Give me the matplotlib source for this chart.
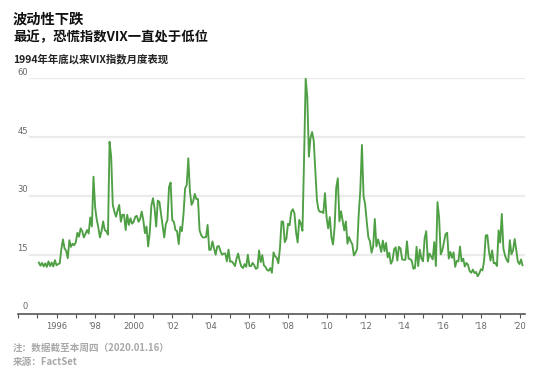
import numpy as np
import matplotlib
matplotlib.use("Agg")
import matplotlib.pyplot as plt

plt.rcParams['font.family'] = ['Noto Sans CJK SC', 'DejaVu Sans']

# VIX monthly close, Dec 1994 first, then Jan..Dec per year
vix_1990s = [13.0,
             12.2, 12.9, 12.0, 12.8, 11.9, 13.3, 12.1, 13.0, 12.0, 13.6, 12.3, 12.6,
             12.8, 16.4, 18.9, 16.6, 16.0, 14.1, 18.7, 17.0, 17.8, 17.4, 18.2, 20.6,
             19.6, 21.7, 21.0, 19.4, 20.3, 21.3, 20.4, 24.5, 22.2, 34.9, 27.2, 24.0,
             22.0, 19.4, 21.0, 23.5, 21.3, 21.0, 20.1, 43.8, 40.0, 27.7, 26.0, 24.7,
             26.3, 27.7, 23.4, 25.2, 25.2, 21.3, 25.2, 22.6, 24.3, 22.9, 23.4, 24.7]
vix_2000s = [24.9, 23.4, 24.1, 26.0, 23.8, 20.5, 22.2, 17.1, 20.6, 27.5, 29.4, 26.8,
             22.2, 28.8, 28.5, 25.5, 22.5, 19.4, 22.8, 23.8, 32.3, 33.4, 23.8, 23.4,
             21.3, 21.0, 17.7, 22.1, 21.0, 25.4, 31.9, 32.8, 39.6, 31.1, 27.7, 28.6,
             30.5, 29.2, 29.2, 21.2, 20.0, 19.4, 19.4, 19.5, 22.6, 16.2, 16.3, 18.4,
             16.6, 15.0, 17.1, 17.2, 15.9, 15.0, 15.3, 15.3, 13.3, 16.3, 13.2, 13.3,
             12.8, 12.1, 14.0, 15.3, 13.3, 12.0, 11.6, 12.6, 11.9, 15.0, 12.1, 12.1,
             12.9, 12.3, 11.4, 11.6, 16.1, 13.1, 14.9, 12.3, 11.9, 11.1, 10.9, 11.6,
             10.4, 15.6, 14.6, 14.2, 12.8, 16.7, 23.5, 23.4, 18.2, 19.1, 22.9, 22.5,
             25.9, 26.6, 25.6, 20.8, 18.1, 23.9, 22.9, 21.1, 39.4, 59.9, 55.3, 40.0,
             44.8, 46.3, 44.1, 36.5, 28.9, 26.4, 25.9, 26.0, 25.6, 30.7, 24.5, 21.7]
vix_2010s = [24.6, 19.5, 17.6, 22.1, 32.1, 34.5, 23.5, 26.1, 23.7, 21.2, 23.5, 17.8,
             19.5, 18.4, 17.7, 14.8, 15.5, 16.5, 25.3, 31.6, 43.0, 30.0, 27.8, 23.4,
             19.4, 18.4, 15.5, 17.2, 24.1, 17.1, 18.9, 17.5, 15.7, 18.6, 15.9, 18.0,
             14.3, 15.5, 12.7, 13.5, 16.3, 16.9, 13.5, 17.0, 16.6, 13.8, 13.7, 13.7,
             18.4, 14.0, 13.9, 13.4, 11.4, 11.6, 17.0, 12.1, 16.3, 14.0, 13.3, 19.2,
             21.0, 13.3, 15.3, 14.6, 13.8, 18.2, 12.1, 28.4, 24.5, 15.1, 16.1, 18.2,
             20.2, 20.6, 14.0, 15.7, 14.2, 15.6, 11.9, 13.4, 13.3, 17.1, 13.3, 14.0,
             12.0, 12.9, 12.4, 10.8, 10.4, 11.2, 10.3, 10.6, 9.5, 10.2, 11.3, 11.0,
             13.5, 19.9, 20.0, 15.9, 13.5, 16.1, 12.8, 12.9, 12.1, 21.2, 18.1, 25.4,
             16.6, 14.8, 13.7, 13.1, 18.7, 15.1, 16.1, 19.0, 16.2, 13.2, 12.6, 13.8]
vix_2020 = [12.3]  # 2020-01-16

y_ticks = [0, 15, 30, 45, 60]
x_labels = ["1996", "'98", "2000", "'02", "'04", "'06", "'08", "'10",
            "'12", "'14", "'16", "'18", "'20"]

vix = np.array(vix_1990s + vix_2000s + vix_2010s + vix_2020)
# month-end positions in decimal years, last point is mid-January 2020
t = 1995.0 + np.arange(len(vix)) / 12.0 + 0.08
t[-1] = 2020.15

fig = plt.figure(figsize=(5.5, 3.75), dpi=100)
ax = fig.add_axes([18 / 550, 61.5 / 375, 507 / 550, 235.2 / 375])
x0 = 1994.0
x1 = x0 + 507 / 19.29
ax.set_xlim(x0, x1)
ax.set_ylim(0, 60)

for v in y_ticks[1:]:
    ax.axhline(v, xmin=0.024, xmax=1.0, color='#ebebeb', lw=1.6, zorder=0)
    ax.text(0.0197, v + 0.4, str(v), transform=ax.get_yaxis_transform(),
            ha='right', va='bottom', fontsize=6, color='#666666',
            family='DejaVu Sans')
ax.text(0.0197, 0.6, "0", transform=ax.get_yaxis_transform(),
        ha='right', va='bottom', fontsize=6, color='#666666', family='DejaVu Sans')

ax.plot(t, vix, color='#4f9f45', lw=1.35, clip_on=False, zorder=3)

for s in ['top', 'right', 'left']:
    ax.spines[s].set_visible(False)
ax.spines['bottom'].set_color('#555555')
ax.spines['bottom'].set_linewidth(1.2)
ax.set_yticks([])
ax.set_xticks(np.arange(1996, 2021, 2))
ax.set_xticklabels(x_labels)
ax.set_xticks(np.arange(1994, 2021, 1), minor=True)
ax.tick_params(axis='x', which='both', direction='out', length=3, width=0.8,
               color='#555555', labelsize=6, labelcolor='#666666', pad=3)
for lab in ax.get_xticklabels():
    lab.set_family('DejaVu Sans')

fig.text(13 / 550, 1 - 20 / 375, "波动性下跌", fontsize=10.3, fontweight='bold',
         color='#111111', va='center', ha='left')
fig.text(13 / 550, 1 - 37 / 375, "最近，恐慌指数VIX一直处于低位", fontsize=9.6,
         fontweight='bold', color='#111111', va='center', ha='left')
fig.text(13 / 550, 1 - 59 / 375, "1994年年底以来VIX指数月度表现", fontsize=7.5,
         fontweight='bold', color='#222222', va='center', ha='left')

fig.text(13 / 550, 1 - 348 / 375, "注：数据截至本周四（2020.01.16）", fontsize=6.9,
         fontweight='bold', color='#a8a8a8', va='center', ha='left')
fig.text(13 / 550, 1 - 362 / 375, "来源：FactSet", fontsize=6.9,
         fontweight='bold', color='#a8a8a8', va='center', ha='left')

fig.savefig("out.png", dpi=100)
